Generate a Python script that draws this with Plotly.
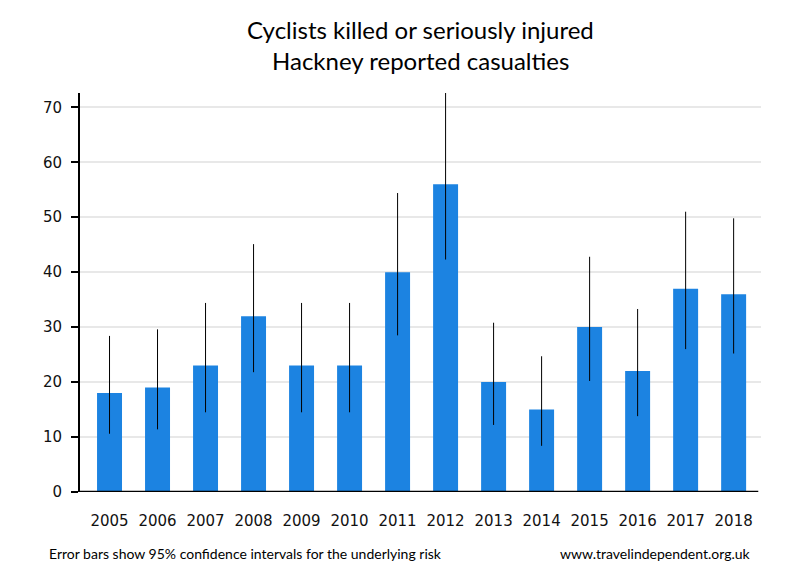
import plotly.graph_objects as go

years = ["2005","2006","2007","2008","2009","2010","2011","2012","2013","2014","2015","2016","2017","2018"]
casualties = [18, 19, 23, 32, 23, 23, 40, 56, 20, 15, 30, 22, 37, 36]
ci_upper = [28.4, 29.6, 34.4, 45.1, 34.4, 34.4, 54.4, 72.7, 30.8, 24.7, 42.8, 33.3, 51.0, 49.8]
ci_lower = [10.6, 11.4, 14.5, 21.8, 14.5, 14.5, 28.5, 42.3, 12.2, 8.4, 20.2, 13.8, 26.0, 25.2]

err_plus = [u - v for u, v in zip(ci_upper, casualties)]
err_minus = [v - l for v, l in zip(casualties, ci_lower)]

W, H = 800, 580
ML, MR, MT, MB = 80, 39, 93, 88
plot_w = W - ML - MR
plot_h = H - MT - MB

def px_x(x):
    return (x - ML) / plot_w

def px_y(y):
    return (H - MB - y) / plot_h

fig = go.Figure()
fig.add_trace(go.Bar(
    x=list(range(len(years))), y=casualties,
    marker=dict(color="#1c83e1", line=dict(width=0)),
    width=0.52,
    error_y=dict(type="data", symmetric=False, array=err_plus, arrayminus=err_minus,
                 color="black", thickness=1, width=0),
    hoverinfo="x+y",
))

title_font = dict(family="Lato", size=24, color="black")
foot_font = dict(family="Lato", size=14, color="black")

fig.update_layout(
    width=W, height=H,
    margin=dict(l=ML, r=MR, t=MT, b=MB),
    paper_bgcolor="white", plot_bgcolor="white",
    showlegend=False,
    font=dict(family="DejaVu Sans", size=15, color="#222"),
    xaxis=dict(
        tickmode="array", tickvals=list(range(len(years))), ticktext=years,
        range=[-0.615, 13.57], showgrid=False, zeroline=False,
        showline=False, ticks="", ticklabelstandoff=18,
        tickfont=dict(family="DejaVu Sans", size=15, color="#111"),
        fixedrange=True,
    ),
    yaxis=dict(
        range=[0, 72.6], tickvals=[0, 10, 20, 30, 40, 50, 60, 70],
        showgrid=True, gridcolor="#e8e8e8", gridwidth=2,
        zeroline=False, showline=True, linecolor="black", linewidth=2,
        ticks="outside", ticklen=7, tickwidth=2, tickcolor="black",
        ticklabelstandoff=6,
        tickfont=dict(family="DejaVu Sans", size=15, color="#111"),
        fixedrange=True,
    ),
    shapes=[dict(type="line", xref="paper", yref="y", x0=0, x1=0.996, y0=0, y1=0,
                 line=dict(color="black", width=2.5))],
    annotations=[
        dict(text="Cyclists killed or seriously injured", x=0.5, y=px_y(29),
             xref="paper", yref="paper", xanchor="center", yanchor="middle",
             showarrow=False, font=title_font),
        dict(text="Hackney reported casualties", x=0.5, y=px_y(60),
             xref="paper", yref="paper", xanchor="center", yanchor="middle",
             showarrow=False, font=title_font),
        dict(text="Error bars show 95% confidence intervals for the underlying risk",
             x=px_x(47), y=px_y(553), xref="paper", yref="paper",
             xanchor="left", yanchor="middle", showarrow=False, font=foot_font),
        dict(text="www.travelindependent.org.uk",
             x=px_x(753), y=px_y(553), xref="paper", yref="paper",
             xanchor="right", yanchor="middle", showarrow=False, font=foot_font),
    ],
)

fig.write_html("out.html")
